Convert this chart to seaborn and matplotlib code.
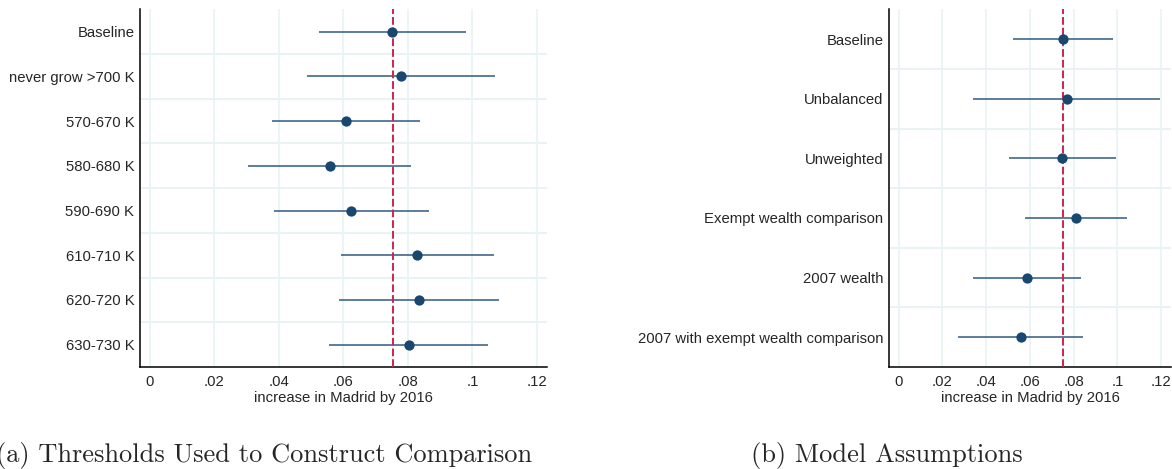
import numpy as np
import pandas as pd
import matplotlib
matplotlib.use("Agg")
import matplotlib.pyplot as plt
import seaborn as sns

# --- data ---
labels_a = ["Baseline", "never grow >700 K", "570-670 K", "580-680 K",
            "590-690 K", "610-710 K", "620-720 K", "630-730 K"]
est_a = [0.0752, 0.0779, 0.0607, 0.0558, 0.0624, 0.0829, 0.0833, 0.0802]
lo_a = [0.0524, 0.0488, 0.0378, 0.0306, 0.0384, 0.0592, 0.0586, 0.0557]
hi_a = [0.0981, 0.1069, 0.0836, 0.0810, 0.0864, 0.1067, 0.1082, 0.1048]

labels_b = ["Baseline", "Unbalanced", "Unweighted", "Exempt wealth comparison",
            "2007 wealth", "2007 with exempt wealth comparison"]
est_b = [0.0753, 0.0769, 0.0748, 0.0809, 0.0586, 0.0559]
lo_b = [0.0525, 0.0338, 0.0504, 0.0578, 0.0339, 0.0273]
hi_b = [0.0982, 0.1197, 0.0992, 0.1042, 0.0832, 0.0845]

baseline_ref = 0.0753
xticks = [0, 0.02, 0.04, 0.06, 0.08, 0.1, 0.12]
xticklabels = ["0", ".02", ".04", ".06", ".08", ".1", ".12"]

sns.set_theme(style="white")
plt.rcParams["font.family"] = ["Liberation Sans", "DejaVu Sans"]

NAVY = "#1a476f"
GRID = "#eaf2f3"
RED = "#c8264f"

W, H = 1172, 469
top_px, bot_px = 9.3, 367
fig = plt.figure(figsize=(W / 100, H / 100), dpi=100)
ax_a = fig.add_axes([140 / W, 1 - bot_px / H, (547 - 140) / W, (bot_px - top_px) / H])
ax_b = fig.add_axes([889 / W, 1 - bot_px / H, (1171 - 889) / W, (bot_px - top_px) / H])


def coef_panel(ax, labels, est, lo, hi, xlim):
    df = pd.DataFrame({"label": labels, "est": est, "lo": lo, "hi": hi})
    n = len(df)
    ax.set_xlim(*xlim)
    # grid: vertical at x ticks, horizontal between rows
    for x in xticks:
        ax.axvline(x, color=GRID, lw=1.2, zorder=0)
    for yy in np.arange(n - 1) + 0.5:
        ax.axhline(yy, color=GRID, lw=1.5, zorder=0)
    ax.hlines(np.arange(n), df["lo"], df["hi"], color="#2f5a82", lw=1.1, zorder=2)
    ax.axvline(baseline_ref, color=RED, lw=1.4, ls=(0, (4, 1.5)), zorder=3)
    sns.scatterplot(data=df, x="est", y=np.arange(n), ax=ax, color=NAVY,
                    s=55, edgecolor=NAVY, linewidth=0, zorder=4)
    ax.set_yticks(np.arange(n))
    ax.set_yticklabels(labels, fontsize=10.7)
    ax.set_ylim(n - 0.5, -0.5)
    ax.set_xticks(xticks)
    ax.set_xticklabels(xticklabels, fontsize=10.7)
    ax.set_xlabel("increase in Madrid by 2016", fontsize=10.7, labelpad=1)
    ax.set_ylabel("")
    ax.tick_params(axis="y", length=0, pad=4)
    ax.tick_params(axis="x", length=4, width=1, color="black", direction="out", pad=2)
    for side in ["top", "right"]:
        ax.spines[side].set_visible(False)
    for side in ["left", "bottom"]:
        ax.spines[side].set_color("black")
        ax.spines[side].set_linewidth(1.1)


coef_panel(ax_a, labels_a, est_a, lo_a, hi_a, (-0.003, 0.1231))
coef_panel(ax_b, labels_b, est_b, lo_b, hi_b, (-0.0044, 0.1245))

fig.text(532 / W, 1 - 455 / H, "(a) Thresholds Used to Construct Comparison",
         family="cmr10", fontsize=19, ha="right", va="center")
fig.text(1023 / W, 1 - 455 / H, "(b) Model Assumptions",
         family="cmr10", fontsize=19, ha="right", va="center")

fig.savefig("out.png", dpi=100)
